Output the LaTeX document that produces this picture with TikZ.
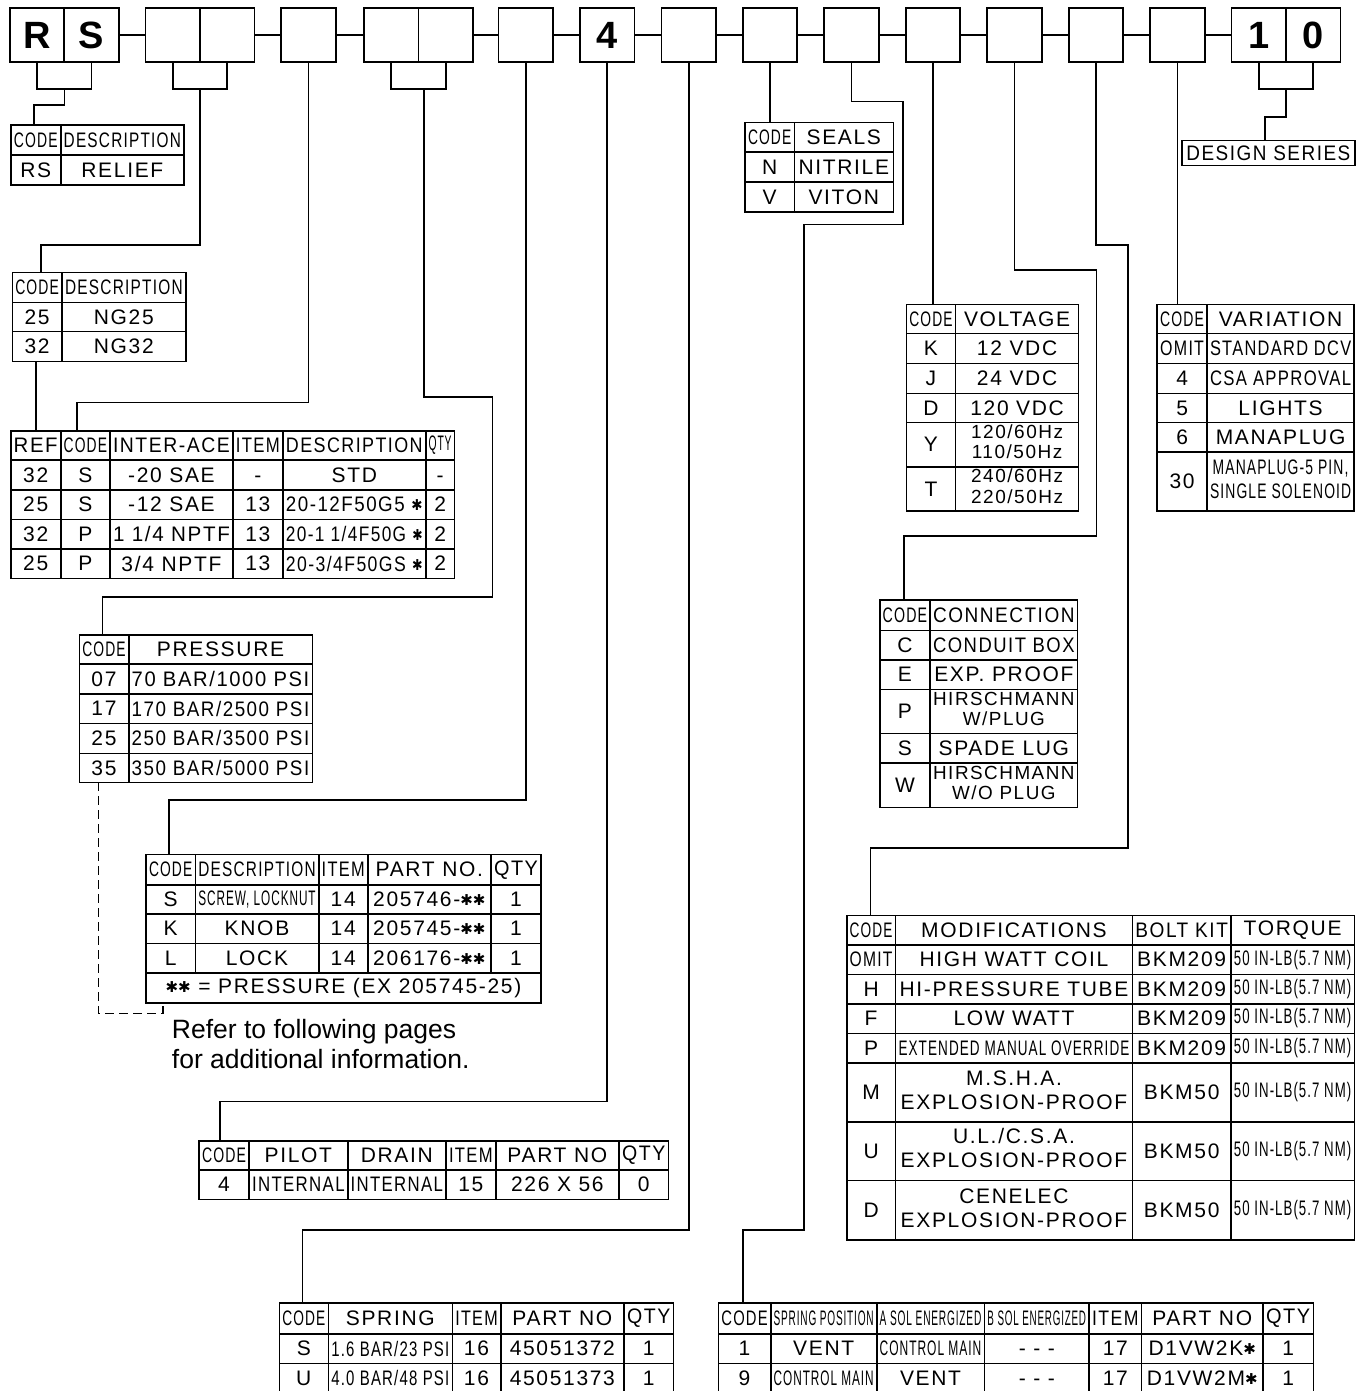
\documentclass[tikz,border=0pt]{standalone}
\usepackage{fontspec}
\setmainfont{Liberation Sans}
\newfontfamily\cadf[LetterSpace=8]{Liberation Sans}
\newfontfamily\dvfont{DejaVu Sans}
\usepackage{graphicx}
\usetikzlibrary{fit}
\newlength\fitw
\newcommand\fitto[2]{\settowidth\fitw{#2}\ifdim\fitw>#1\relax\resizebox{#1}{\height}{#2}\else#2\fi}
\newcommand\two[2]{{\fontsize{19}{20.5}\selectfont\begin{tabular}{@{}c@{}}#1\\#2\end{tabular}}}
\newcommand\twob[2]{{\fontsize{21}{24}\selectfont\begin{tabular}{@{}c@{}}#1\\#2\end{tabular}}}
\newcommand\hast{{\dvfont\fontsize{15}{15}\selectfont\raisebox{1pt}{✱}}}
\newcounter{cc}
\newcommand\cellbox[5]{%
  \stepcounter{cc}%
  \draw[tline] (#1,#3) rectangle (#2,#4);%
  \pgfmathsetmacro\cw{#2-#1-6}%
  \node[ct] (cell\thecc) at ({(#1+#2)/2},{(#3+#4)/2}) {\vphantom{0}\fitto{\cw pt}{#5}};}
\newcommand\trow[2]{%
  \pgfmathsetmacro\ya{\TR[#1]}\pgfmathsetmacro\yb{\TR[#1+1]}%
  \foreach \t [count=\i from 0] in {#2} {%
    \pgfmathsetmacro\xa{\TC[\i]}\pgfmathsetmacro\xb{\TC[\i+1]}%
    \cellbox{\xa}{\xb}{\ya}{\yb}{\t}}}
\newcommand\tframe[5]{\node[tline,draw,inner sep=0pt,fit={(#2,#3) (#4,#5)}] (#1) {};}
\begin{document}
\begin{tikzpicture}[x=1pt,y=-1pt,
  conn/.style={line width=1.6pt},
  tline/.style={line width=1.6pt},
  ct/.style={inner sep=0pt,font=\cadf\fontsize{21}{22}\selectfont},
  cbox/.style={draw,line width=1.8pt,minimum width=54.5pt,minimum height=54pt,inner sep=0pt,outer sep=0pt,font=\bfseries\fontsize{38}{38}\selectfont},
  dsbox/.style={draw,line width=1.6pt,minimum width=173.3pt,minimum height=25pt,inner sep=0pt,outer sep=0pt,font=\cadf\fontsize{21}{22}\selectfont}]
\useasboundingbox (0,0) rectangle (1367,1391);
\fill[white] (0,0) rectangle (1367,1391);
% top row of code boxes
\node[cbox] (b1a) at (37.25,35.3) {R};
\node[cbox] (b1b) at (91.5,35.3) {S};
\node[cbox] (b2a) at (172.75,35.3) {};
\node[cbox] (b2b) at (227.25,35.3) {};
\node[cbox] (b3) at (308.5,35.3) {};
\node[cbox] (b4a) at (391.25,35.3) {};
\node[cbox] (b4b) at (445.75,35.3) {};
\node[cbox] (b5) at (525.75,35.3) {};
\node[cbox] (b6) at (607.25,35.3) {4};
\node[cbox] (b7) at (688.75,35.3) {};
\node[cbox] (b8) at (770,35.3) {};
\node[cbox] (b9) at (851.5,35.3) {};
\node[cbox] (b10) at (933,35.3) {};
\node[cbox] (b11) at (1014.5,35.3) {};
\node[cbox] (b12) at (1096,35.3) {};
\node[cbox] (b13) at (1177.5,35.3) {};
\node[cbox] (b14a) at (1258.75,35.3) {1};
\node[cbox] (b14b) at (1313.25,35.3) {0};
\foreach \a/\b in {b1b/b2a,b2b/b3,b3/b4a,b4b/b5,b5/b6,b6/b7,b7/b8,b8/b9,b9/b10,b10/b11,b11/b12,b12/b13,b13/b14a}
  \draw[conn] (\a.east) -- (\b.west);
% tables
% A
\def\TC{{11,60.7,184}}\def\TR{{125,155,185}}
\trow{0}{CODE,DESCRIPTION}
\trow{1}{RS,RELIEF}
\tframe{tA}{11}{125}{184}{185}
% B
\def\TC{{12.3,62,185.7}}\def\TR{{272.3,302.3,331.3,361.3}}
\trow{0}{CODE,DESCRIPTION}
\trow{1}{25,NG25}
\trow{2}{32,NG32}
\tframe{tB}{12.3}{272.3}{185.7}{361.3}
% C
\def\TC{{10.7,60.7,110,232.9,282.9,425.7,454.6}}\def\TR{{430.7,460,490,519.3,548.7,578.3}}
\trow{0}{REF,CODE,INTER-ACE,ITEM,DESCRIPTION,QTY}
\trow{1}{32,S,-20 SAE,-,STD,-}
\trow{2}{25,S,-12 SAE,13,20-12F50G5 \hast,2}
\trow{3}{32,P,1 1/4 NPTF,13,20-1 1/4F50G \hast,2}
\trow{4}{25,P,3/4 NPTF,13,20-3/4F50GS \hast,2}
\tframe{tC}{10.7}{430.7}{454.6}{578.3}
% D
\def\TC{{79.3,128.7,312.3}}\def\TR{{635,664,694,723.3,753.3,782.3}}
\trow{0}{CODE,PRESSURE}
\trow{1}{07,70 BAR/1000 PSI}
\trow{2}{17,170 BAR/2500 PSI}
\trow{3}{25,250 BAR/3500 PSI}
\trow{4}{35,350 BAR/5000 PSI}
\tframe{tD}{79.3}{635}{312.3}{782.3}
% E
\def\TC{{146,195.3,318.7,367.7,491,541}}\def\TR{{854.3,885,914,943.3,972.7,1002.7}}
\trow{0}{CODE,DESCRIPTION,ITEM,PART NO.,QTY}
\trow{1}{S,{SCREW, LOCKNUT},14,205746-\hast\hast,1}
\trow{2}{K,KNOB,14,205745-\hast\hast,1}
\trow{3}{L,LOCK,14,206176-\hast\hast,1}
\cellbox{146}{541}{972.7}{1002.7}{\hast\hast{} = PRESSURE (EX 205745-25)}
\tframe{tE}{146}{854.3}{541}{1002.7}
% F
\def\TC{{199,249,347.7,446,495.7,619,668.3}}\def\TR{{1140.7,1170,1199.3}}
\trow{0}{CODE,PILOT,DRAIN,ITEM,PART NO,QTY}
\trow{1}{4,INTERNAL,INTERNAL,15,226 X 56,0}
\tframe{tF}{199}{1140.7}{668.3}{1199.3}
% G
\def\TC{{279.3,328.3,452.3,500.7,624,673.3}}\def\TR{{1302.7,1334,1363.3,1392.6}}
\trow{0}{CODE,SPRING,ITEM,PART NO,QTY}
\trow{1}{S,1.6 BAR/23 PSI,16,45051372,1}
\trow{2}{U,4.0 BAR/48 PSI,16,45051373,1}
\tframe{tG}{279.3}{1302.7}{673.3}{1392.6}
% H
\def\TC{{718.4,770.7,876.7,984.4,1089.1,1141.5,1263,1313.3}}
\trow{0}{CODE,SPRING POSITION,A SOL ENERGIZED,B SOL ENERGIZED,ITEM,PART NO,QTY}
\trow{1}{1,VENT,CONTROL MAIN,-\ -\ -,17,D1VW2K\hast,1}
\trow{2}{9,CONTROL MAIN,VENT,-\ -\ -,17,D1VW2M\hast,1}
\tframe{tH}{718.4}{1302.7}{1313.3}{1392.6}
% SEALS
\def\TC{{745,794.3,893.3}}\def\TR{{122.7,152.3,182,211.7}}
\trow{0}{CODE,SEALS}
\trow{1}{N,NITRILE}
\trow{2}{V,VITON}
\tframe{tS}{745}{122.7}{893.3}{211.7}
% VOLTAGE
\def\TC{{906.3,955.6,1078.6}}\def\TR{{304.3,333.3,363.3,393.3,422.3,466.7,511}}
\trow{0}{CODE,VOLTAGE}
\trow{1}{K,12 VDC}
\trow{2}{J,24 VDC}
\trow{3}{D,120 VDC}
\trow{4}{Y,{\two{120/60Hz}{110/50Hz}}}
\trow{5}{T,{\two{240/60Hz}{220/50Hz}}}
\tframe{tI}{906.3}{304.3}{1078.6}{511}
% VARIATION
\def\TC{{1157.2,1207,1354.2}}\def\TR{{304.3,333.3,363.3,393.3,422.3,451.7,511}}
\trow{0}{CODE,VARIATION}
\trow{1}{OMIT,STANDARD DCV}
\trow{2}{4,CSA APPROVAL}
\trow{3}{5,LIGHTS}
\trow{4}{6,MANAPLUG}
\trow{5}{30,{\twob{MANAPLUG-5 PIN,}{SINGLE SOLENOID}}}
\tframe{tL}{1157.2}{304.3}{1354.2}{511}
% CONNECTION
\def\TC{{879.7,930.1,1077.6}}\def\TR{{600.2,630.5,660,689.4,733.6,763,807.3}}
\trow{0}{CODE,CONNECTION}
\trow{1}{C,CONDUIT BOX}
\trow{2}{E,EXP. PROOF}
\trow{3}{P,{\two{HIRSCHMANN}{W/PLUG}}}
\trow{4}{S,SPADE LUG}
\trow{5}{W,{\two{HIRSCHMANN}{W/O PLUG}}}
\tframe{tJ}{879.7}{600.2}{1077.6}{807.3}
% MODIFICATIONS
\def\TC{{846.7,895.5,1132.4,1230.9,1354.3}}\def\TR{{915.4,944.9,974.4,1003.8,1033.3,1062.7,1121.7,1180.6,1240}}
\trow{0}{CODE,MODIFICATIONS,BOLT KIT,TORQUE}
\trow{1}{OMIT,HIGH WATT COIL,BKM209,50 IN-LB(5.7 NM)}
\trow{2}{H,HI-PRESSURE TUBE,BKM209,50 IN-LB(5.7 NM)}
\trow{3}{F,LOW WATT,BKM209,50 IN-LB(5.7 NM)}
\trow{4}{P,EXTENDED MANUAL OVERRIDE,BKM209,50 IN-LB(5.7 NM)}
\trow{5}{M,{\twob{M.S.H.A.}{EXPLOSION-PROOF}},BKM50,50 IN-LB(5.7 NM)}
\trow{6}{U,{\twob{U.L./C.S.A.}{EXPLOSION-PROOF}},BKM50,50 IN-LB(5.7 NM)}
\trow{7}{D,{\twob{CENELEC}{EXPLOSION-PROOF}},BKM50,50 IN-LB(5.7 NM)}
\tframe{tK}{846.7}{915.4}{1354.3}{1240}
% design series
\node[dsbox] (tDS) at (1268.35,153.2) {\fitto{164pt}{DESIGN SERIES}};
% note
\node[anchor=base west,inner sep=0pt,font=\fontsize{26.5}{30}\selectfont] (note1) at (171.7,1038.3) {Refer to following pages};
\node[anchor=base west,inner sep=0pt,font=\fontsize{26.5}{30}\selectfont] (note2) at (171.7,1068.3) {for additional information.};
% entry / exit coordinates
\coordinate (k1) at (64.3,89);
\coordinate (inA) at (34,125);
\coordinate (k2) at (200,89);
\coordinate (inB) at (41,272.3);
\coordinate (outB) at (36,361.3);
\coordinate (inC1) at (36,430.7);
\coordinate (inC2) at (76.7,430.7);
\coordinate (k4) at (424,89);
\coordinate (inD) at (102.3,635);
\coordinate (inE) at (169,854.3);
\coordinate (outD) at (98.3,782.3);
\coordinate (outE) at (162.7,1002.7);
\coordinate (inF) at (220,1140.7);
\coordinate (inG) at (302.3,1302.7);
\coordinate (inH) at (742.7,1302.7);
\coordinate (inJ) at (903.9,600.2);
\coordinate (inK) at (870.3,915.4);
\coordinate (k14) at (1286,89);
\coordinate (inDS) at (1265,140.7);
% connectors
\draw[conn] (b1a.south) -- ++(0,26.6) -| (b1b.south);
\draw[conn] (k1) -- (64.3,105) -| (inA);
\draw[conn] (b2a.south) -- ++(0,26.6) -| (b2b.south);
\draw[conn] (k2) -- (200,245) -| (inB);
\draw[conn] (outB) -- (inC1);
\draw[conn] (b3.south) -- ++(0,340) -| (inC2);
\draw[conn] (b4a.south) -- ++(0,26.6) -| (b4b.south);
\draw[conn] (k4) -- (424,396.7) -| (492.3,597) -| (inD);
\draw[conn] (b5.south) -- ++(0,737.7) -| (inE);
\draw[conn,dash pattern=on 9pt off 5pt] (outD) -- (98.3,1013.3) -| (outE);
\draw[conn] (b6.south) -- ++(0,1039.2) -| (inF);
\draw[conn] (b7.south) -- ++(0,1167.7) -| (inG);
\draw[conn] (b8.south) -- (b8.south |- tS.north);
\draw[conn] (b9.south) -- ++(0,39.4) -| (903,224.3) -| (804.2,1230) -| (inH);
\draw[conn] (b10.south) -- (b10.south |- tI.north);
\draw[conn] (b11.south) -- ++(0,207.7) -| (1096.4,536) -| (inJ);
\draw[conn] (b12.south) -- ++(0,182.7) -| (1127.8,848.1) -| (inK);
\draw[conn] (b13.south) -- (b13.south |- tL.north);
\draw[conn] (b14a.south) -- ++(0,26.6) -| (b14b.south);
\draw[conn] (k14) -- (1286,117.3) -| (inDS);
\end{tikzpicture}
\end{document}
